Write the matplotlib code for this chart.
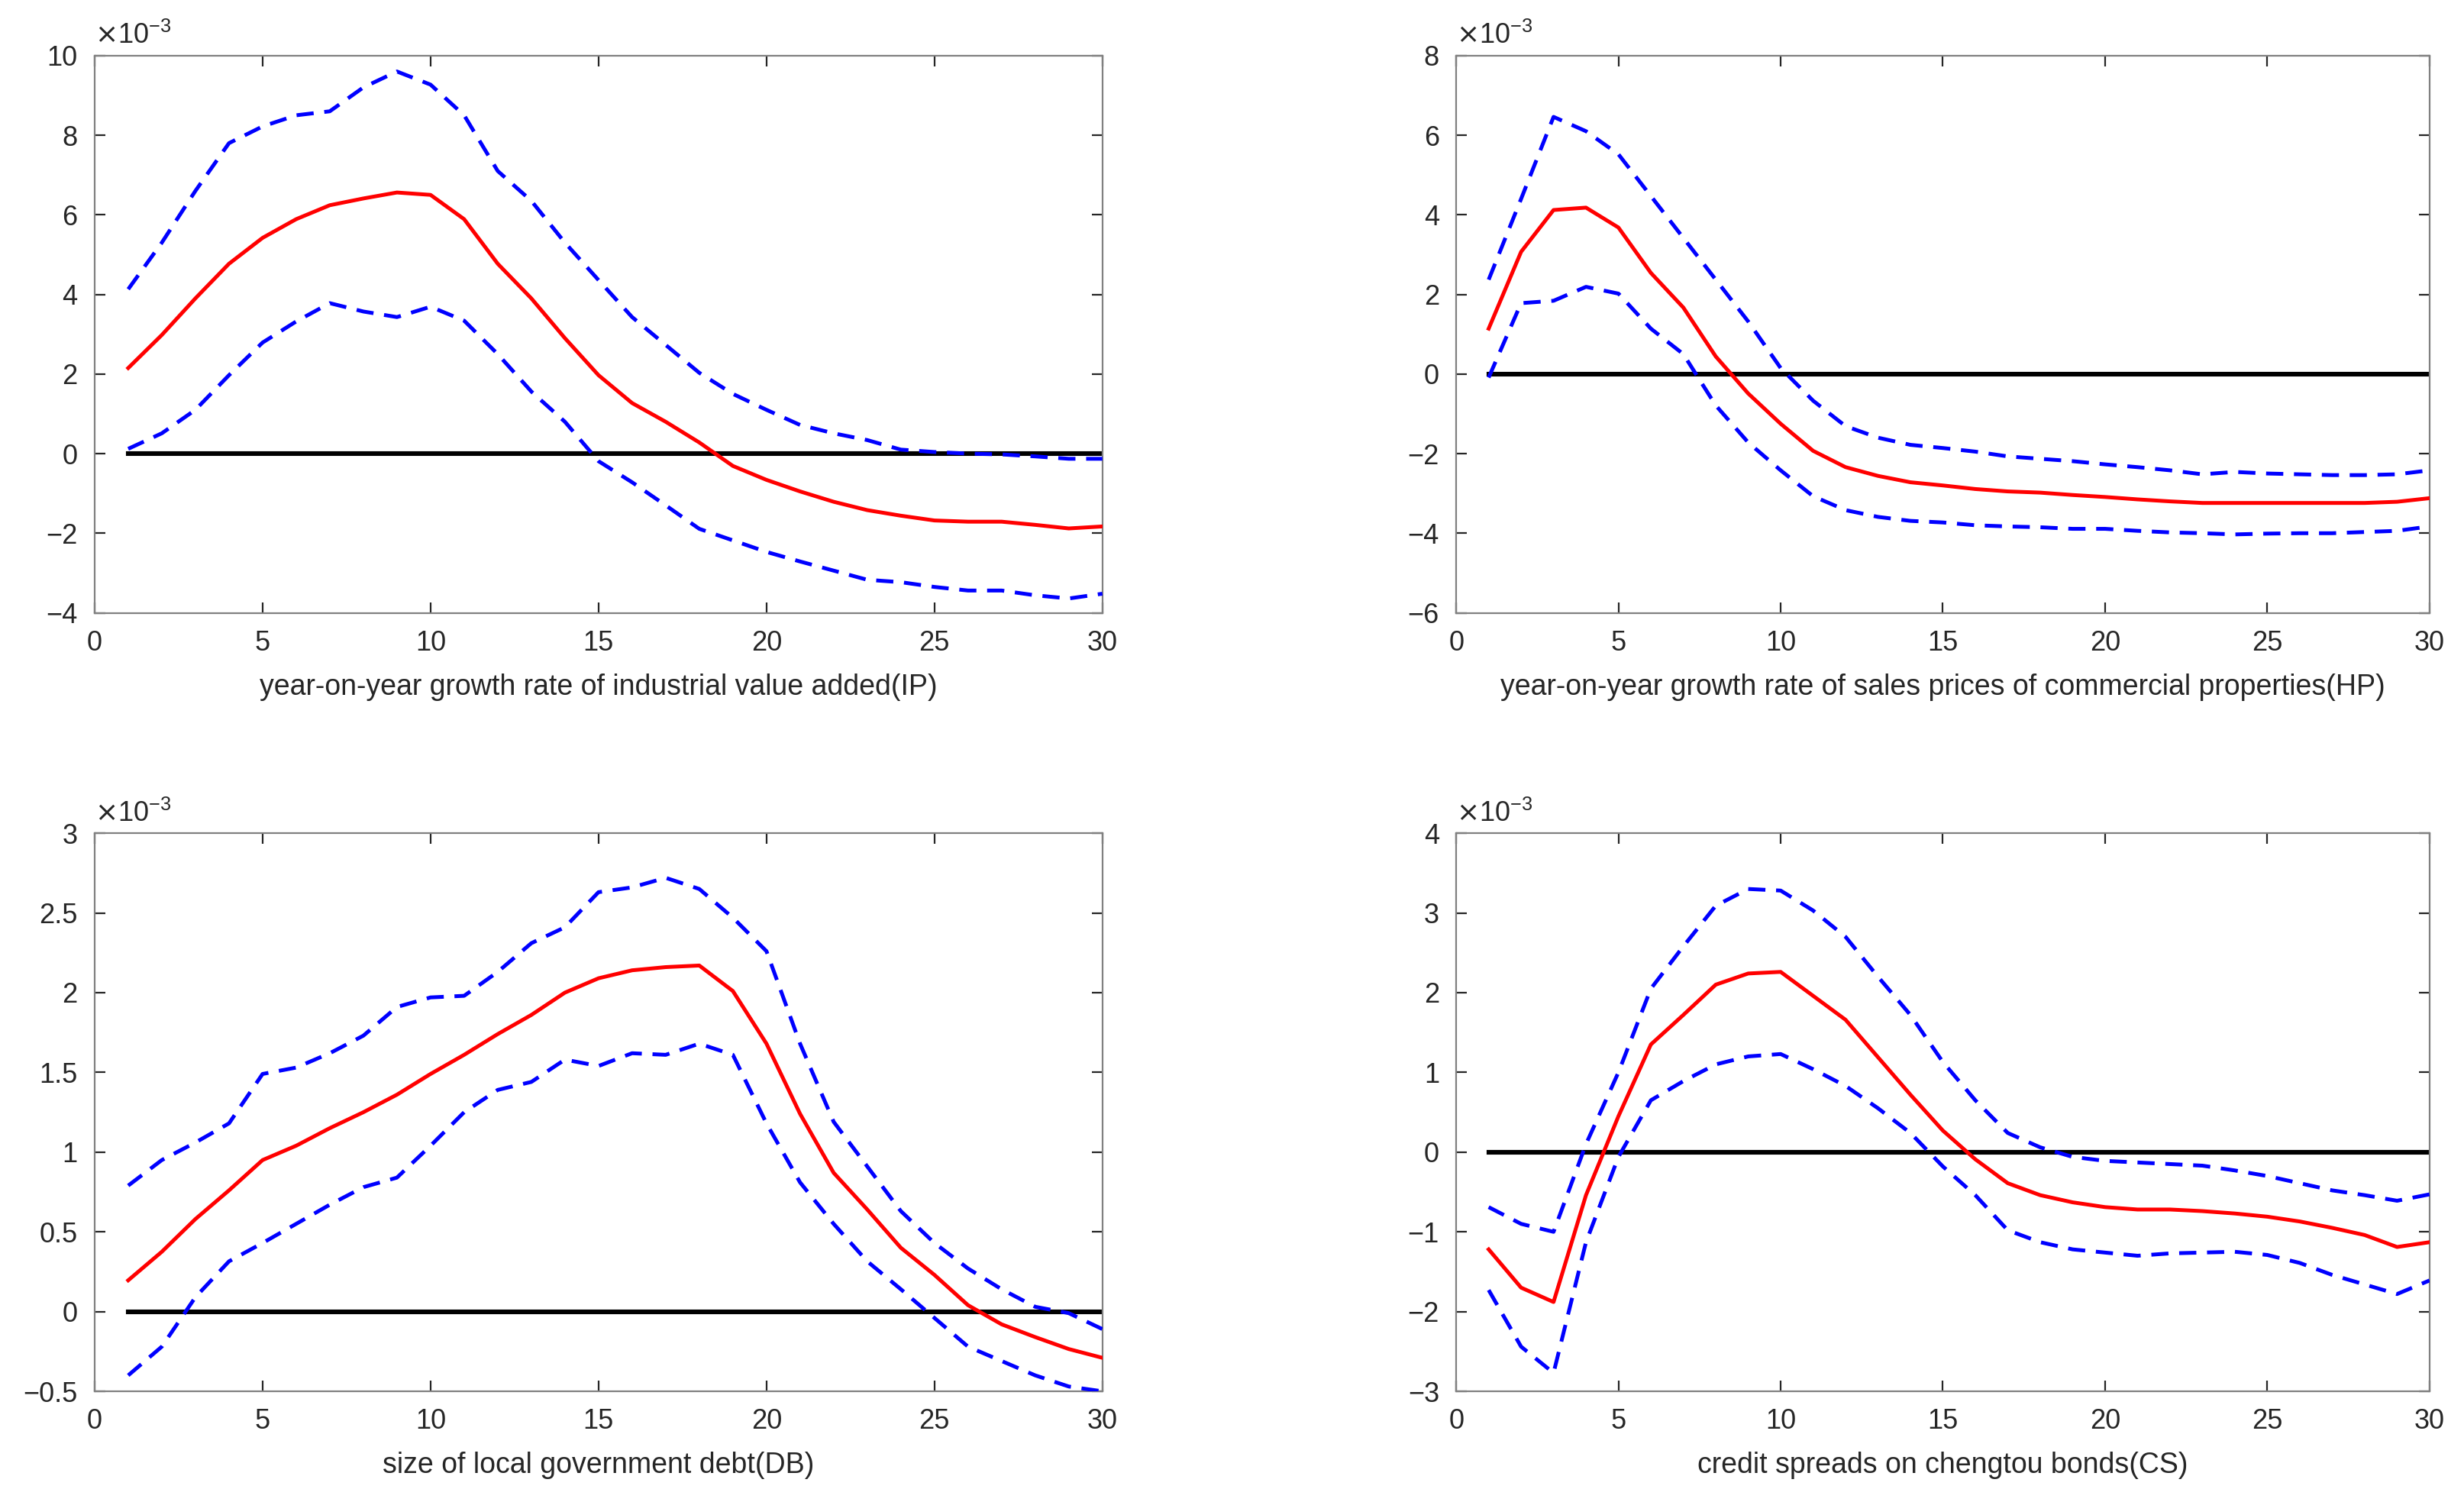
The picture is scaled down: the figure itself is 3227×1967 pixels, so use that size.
import numpy as np
import matplotlib
matplotlib.use("Agg")
import matplotlib.pyplot as plt
from matplotlib.ticker import FuncFormatter, MultipleLocator

plt.rcParams['font.family'] = ['Liberation Sans', 'DejaVu Sans']

periods = np.arange(1, 31)

# impulse responses, values in units of 1e-3
ip_mid = [2.15, 2.98, 3.9, 4.77, 5.42, 5.89, 6.24, 6.41, 6.56, 6.5,
          5.89, 4.77, 3.9, 2.9, 1.97, 1.27, 0.8, 0.28, -0.31, -0.66,
          -0.95, -1.21, -1.42, -1.56, -1.68, -1.71, -1.71, -1.79, -1.88, -1.83]
ip_up = [4.13, 5.3, 6.6, 7.8, 8.22, 8.5, 8.6, 9.2, 9.6, 9.27,
         8.5, 7.1, 6.35, 5.3, 4.36, 3.43, 2.73, 2.03, 1.5, 1.1,
         0.72, 0.51, 0.34, 0.1, 0.04, 0.0, -0.02, -0.07, -0.13, -0.13]
ip_lo = [0.12, 0.51, 1.1, 1.97, 2.79, 3.32, 3.78, 3.57, 3.43, 3.69,
         3.34, 2.5, 1.56, 0.8, -0.19, -0.72, -1.3, -1.89, -2.18, -2.47,
         -2.71, -2.94, -3.17, -3.23, -3.35, -3.44, -3.44, -3.56, -3.64, -3.52]

hp_mid = [1.14, 3.07, 4.12, 4.18, 3.68, 2.54, 1.67, 0.44, -0.49, -1.25,
          -1.93, -2.34, -2.56, -2.72, -2.8, -2.89, -2.95, -2.98, -3.04, -3.09,
          -3.15, -3.2, -3.24, -3.24, -3.24, -3.24, -3.24, -3.24, -3.21, -3.12]
hp_up = [2.37, 4.4, 6.46, 6.1, 5.52, 4.47, 3.42, 2.37, 1.32, 0.15,
         -0.67, -1.31, -1.6, -1.78, -1.86, -1.95, -2.07, -2.13, -2.19, -2.27,
         -2.34, -2.42, -2.52, -2.46, -2.5, -2.52, -2.54, -2.54, -2.52, -2.42]
hp_lo = [-0.09, 1.78, 1.84, 2.19, 2.02, 1.14, 0.5, -0.79, -1.72, -2.42,
         -3.07, -3.42, -3.59, -3.69, -3.73, -3.8, -3.83, -3.85, -3.89, -3.89,
         -3.94, -3.98, -4.0, -4.03, -4.01, -4.0, -4.0, -3.97, -3.94, -3.83]

db_mid = [0.196, 0.375, 0.58, 0.76, 0.95, 1.04, 1.15, 1.25, 1.36, 1.49,
          1.61, 1.74, 1.86, 2.0, 2.09, 2.14, 2.16, 2.17, 2.01, 1.68,
          1.24, 0.87, 0.64, 0.4, 0.23, 0.04, -0.08, -0.16, -0.235, -0.29]
db_up = [0.79, 0.95, 1.06, 1.18, 1.49, 1.53, 1.62, 1.73, 1.91, 1.97,
         1.98, 2.13, 2.31, 2.41, 2.63, 2.66, 2.72, 2.65, 2.47, 2.26,
         1.68, 1.19, 0.91, 0.63, 0.43, 0.27, 0.14, 0.03, -0.01, -0.11]
db_lo = [-0.4, -0.22, 0.09, 0.315, 0.43, 0.55, 0.67, 0.78, 0.84, 1.04,
         1.25, 1.39, 1.44, 1.58, 1.54, 1.62, 1.61, 1.68, 1.61, 1.18,
         0.81, 0.55, 0.315, 0.14, -0.04, -0.22, -0.31, -0.4, -0.47, -0.5]

cs_mid = [-1.22, -1.7, -1.88, -0.54, 0.45, 1.35, 1.72, 2.1, 2.24, 2.26,
          1.96, 1.66, 1.19, 0.72, 0.27, -0.09, -0.39, -0.54, -0.63, -0.69,
          -0.72, -0.72, -0.74, -0.77, -0.81, -0.87, -0.95, -1.04, -1.19, -1.13]
cs_up = [-0.69, -0.9, -1.0, 0.1, 1.0, 2.05, 2.58, 3.09, 3.3, 3.28,
         3.03, 2.7, 2.2, 1.72, 1.13, 0.65, 0.24, 0.06, -0.06, -0.11,
         -0.13, -0.15, -0.17, -0.23, -0.3, -0.39, -0.48, -0.54, -0.61, -0.53]
cs_lo = [-1.73, -2.44, -2.77, -1.13, -0.06, 0.65, 0.89, 1.1, 1.2, 1.23,
         1.04, 0.83, 0.55, 0.24, -0.18, -0.54, -0.98, -1.13, -1.22, -1.26,
         -1.3, -1.27, -1.26, -1.25, -1.29, -1.39, -1.54, -1.66, -1.78, -1.61]

labels = ['year-on-year growth rate of industrial value added(IP)',
          'year-on-year growth rate of sales prices of commercial properties(HP)',
          'size of local government debt(DB)',
          'credit spreads on chengtou bonds(CS)']
ylims = [(-4, 10), (-6, 8), (-0.5, 3), (-3, 4)]
ysteps = [2, 2, 0.5, 1]

panels = [(ip_mid, ip_up, ip_lo), (hp_mid, hp_up, hp_lo),
          (db_mid, db_up, db_lo), (cs_mid, cs_up, cs_lo)]

# axes rectangles in figure fractions
rects = [[0.0384, 0.592, 0.409, 0.371],
         [0.591, 0.592, 0.395, 0.371],
         [0.0384, 0.0737, 0.409, 0.3716],
         [0.591, 0.0737, 0.395, 0.3716]]

fig = plt.figure(figsize=(16.135, 9.835), dpi=200)
axcol = '#262626'


def milli(v, pos):
    s = '%g' % round(v * 1e3, 6)
    if s == '-0':
        s = '0'
    return s.replace('-', '\u2212')


for i in range(4):
    ax = fig.add_axes(rects[i])
    mid, up, lo = [np.array(s) * 1e-3 for s in panels[i]]
    ax.plot(periods, np.zeros(len(periods)), color='black', lw=2.2, zorder=2)
    ax.plot(periods, up, '--', color='blue', lw=1.8, dashes=(4.5, 2.8), zorder=3)
    ax.plot(periods, lo, '--', color='blue', lw=1.8, dashes=(4.5, 2.8), zorder=3)
    ax.plot(periods, mid, '-', color='red', lw=1.8, zorder=4)

    ax.set_xlim(0, 30)
    ax.set_ylim(ylims[i][0] * 1e-3, ylims[i][1] * 1e-3)
    ax.xaxis.set_major_locator(MultipleLocator(5))
    ax.yaxis.set_major_locator(MultipleLocator(ysteps[i] * 1e-3))
    ax.yaxis.set_major_formatter(FuncFormatter(milli))
    ax.text(0.0, 1.01, r'$\times\mathregular{10^{-3}}$', transform=ax.transAxes,
            fontsize=13, color=axcol, ha='left', va='bottom')

    ax.tick_params(direction='in', top=True, right=True, length=5,
                   width=0.8, labelsize=13, colors=axcol, pad=8)
    for sp in ax.spines.values():
        sp.set_color('#808080')
        sp.set_linewidth(0.8)
    ax.set_xlabel(labels[i], fontsize=13.5, color=axcol, labelpad=8)

fig.savefig('out.png', dpi=200, facecolor='white')
